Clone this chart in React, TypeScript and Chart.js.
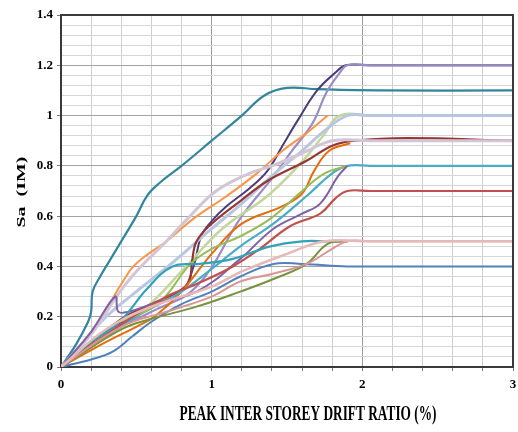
import React, { useEffect, useRef } from 'react';
import { Chart, registerables } from 'chart.js';

Chart.register(...registerables);

type P = [number, number];

const xTitle = 'PEAK INTER STOREY DRIFT RATIO (%)';
const yTitle = 'Sa  (IM)';
const xMin = 0, xMax = 3, xStep = 0.2;
const yMin = 0, yMax = 1.4, yStep = 0.04;

// series (drift %, Sa)
const tealHigh: P[] = [[0,0],[0.1,0.09],[0.18,0.18],[0.2,0.22],[0.21,0.3],[0.26,0.36],[0.32,0.42],[0.4,0.5],[0.5,0.6],[0.57,0.68],[0.65,0.73],[0.8,0.8],[1.0,0.9],[1.2,1.0],[1.35,1.08],[1.5,1.11],[1.7,1.105],[2.1,1.1],[3,1.1]];
const navyPurple: P[] = [[0,0],[0.3,0.14],[0.6,0.24],[0.8,0.3],[0.88,0.4],[0.93,0.52],[1.0,0.58],[1.1,0.64],[1.25,0.71],[1.37,0.78],[1.47,0.88],[1.57,0.98],[1.7,1.1],[1.82,1.17],[1.89,1.2],[2.05,1.2],[3,1.2]];
const lavender: P[] = [[0,0],[0.3,0.13],[0.6,0.22],[0.9,0.32],[1.2,0.6],[1.4,0.75],[1.52,0.85],[1.67,0.97],[1.76,1.09],[1.85,1.17],[1.9,1.2],[2.05,1.2],[3,1.2]];
const orange: P[] = [[0,0],[0.2,0.14],[0.33,0.26],[0.4,0.33],[0.48,0.4],[0.58,0.45],[0.7,0.5],[0.88,0.59],[1.1,0.68],[1.3,0.77],[1.47,0.86],[1.63,0.93],[1.77,1.0]];
const lightGreen: P[] = [[0,0],[0.3,0.13],[0.57,0.24],[0.8,0.38],[1.07,0.55],[1.37,0.68],[1.59,0.81],[1.74,0.92],[1.85,1.0],[2.05,1.0],[3,1.0]];
const blueGray: P[] = [[0,0],[0.15,0.1],[0.3,0.2],[0.5,0.3],[0.75,0.42],[1.0,0.55],[1.2,0.65],[1.4,0.76],[1.6,0.86],[1.75,0.94],[1.9,1.0],[2.05,1.0],[3,1.0]];
const maroon: P[] = [[0,0],[0.4,0.19],[0.6,0.25],[0.78,0.3],[0.85,0.34],[0.87,0.42],[0.9,0.5],[1.0,0.57],[1.19,0.66],[1.37,0.74],[1.63,0.82],[1.8,0.88],[1.95,0.9],[2.3,0.91],[3,0.9]];
const pinkLavender: P[] = [[0,0],[0.2,0.13],[0.38,0.29],[0.5,0.38],[0.7,0.5],[0.84,0.59],[1.03,0.7],[1.25,0.77],[1.4,0.8],[1.6,0.85],[1.8,0.9],[2.05,0.9],[3,0.9]];
const darkOrange: P[] = [[0,0],[0.3,0.1],[0.5,0.16],[0.62,0.2],[0.8,0.3],[1.0,0.45],[1.2,0.57],[1.47,0.64],[1.6,0.69],[1.68,0.78],[1.78,0.86],[1.92,0.89]];
const cyan: P[] = [[0,0],[0.3,0.12],[0.5,0.2],[0.8,0.3],[1.0,0.39],[1.19,0.48],[1.41,0.57],[1.63,0.68],[1.8,0.77],[1.9,0.8],[2.05,0.8],[3,0.8]];
const green: P[] = [[0,0],[0.33,0.16],[0.64,0.25],[0.86,0.41],[1.0,0.47],[1.19,0.52],[1.39,0.59],[1.6,0.7],[1.75,0.77],[1.9,0.8]];
const purple: P[] = [[0,0],[0.2,0.14],[0.36,0.28],[0.38,0.22],[0.45,0.22],[0.6,0.25],[0.9,0.3],[1.19,0.43],[1.41,0.55],[1.6,0.61],[1.72,0.65],[1.84,0.76],[1.9,0.8]];
const red: P[] = [[0,0],[0.4,0.17],[0.7,0.28],[0.9,0.33],[1.14,0.4],[1.32,0.47],[1.52,0.56],[1.72,0.61],[1.82,0.67],[1.9,0.7],[2.05,0.7],[3,0.7]];
const tealLow: P[] = [[0,0],[0.2,0.1],[0.39,0.18],[0.57,0.31],[0.74,0.4],[0.92,0.41],[1.14,0.43],[1.39,0.48],[1.6,0.5],[1.77,0.5],[1.9,0.5]];
const darkGreen: P[] = [[0,0],[0.4,0.15],[0.59,0.19],[0.9,0.24],[1.19,0.3],[1.41,0.35],[1.63,0.41],[1.77,0.49],[1.9,0.5]];
const pink: P[] = [[0,0],[0.4,0.16],[0.7,0.22],[1.0,0.28],[1.19,0.34],[1.4,0.37],[1.63,0.41],[1.8,0.47],[1.9,0.5],[2.05,0.5],[3,0.5]];
const lightPink: P[] = [[0,0],[0.3,0.15],[0.6,0.24],[1.0,0.32],[1.2,0.38],[1.5,0.45],[1.75,0.5],[2.05,0.5],[3,0.5]];
const blue: P[] = [[0,0],[0.2,0.03],[0.34,0.06],[0.47,0.12],[0.6,0.18],[0.8,0.25],[1.0,0.3],[1.19,0.36],[1.41,0.41],[1.6,0.41],[1.9,0.4],[2.1,0.4],[3,0.4]];

const seriesList: { data: P[]; color: string; width: number }[] = [
  { data: lightPink, color: '#e6b9b8', width: 2.5 },
  { data: pink, color: '#d99694', width: 2 },
  { data: darkGreen, color: '#77933c', width: 2 },
  { data: tealLow, color: '#31a2ba', width: 2.2 },
  { data: blue, color: '#4f81bd', width: 2 },
  { data: red, color: '#c0504d', width: 2.2 },
  { data: purple, color: '#7f62a6', width: 2 },
  { data: green, color: '#9bbb59', width: 2 },
  { data: cyan, color: '#4bacc6', width: 2.2 },
  { data: darkOrange, color: '#e46c0a', width: 2 },
  { data: pinkLavender, color: '#d3c5d6', width: 3 },
  { data: maroon, color: '#953735', width: 2.2 },
  { data: blueGray, color: '#b9c6e0', width: 3 },
  { data: lightGreen, color: '#c3d69b', width: 2.5 },
  { data: orange, color: '#f79646', width: 2 },
  { data: lavender, color: '#9a8dc6', width: 2.2 },
  { data: navyPurple, color: '#4b3d7c', width: 2 },
  { data: tealHigh, color: '#31859c', width: 2.2 },
];

const isMult = (v: number, step: number) => Math.abs(v / step - Math.round(v / step)) < 1e-6;
const FONT = '"Liberation Serif", "Times New Roman", serif';

const framePlugin = {
  id: 'frameAndTitles',
  afterDraw(chart: any) {
    const { ctx, chartArea: a } = chart;
    ctx.save();
    ctx.strokeStyle = '#3a3a3a';
    ctx.lineWidth = 2;
    ctx.beginPath();
    ctx.moveTo(a.left, a.top);
    ctx.lineTo(a.right, a.top);
    ctx.lineTo(a.right, a.bottom);
    ctx.stroke();

    ctx.fillStyle = '#000';
    ctx.textAlign = 'center';
    ctx.textBaseline = 'middle';
    // x title
    ctx.font = `bold 20px ${FONT}`;
    const wx = ctx.measureText(xTitle).width;
    ctx.save();
    ctx.translate(308, 415);
    ctx.scale(257 / wx, 1);
    ctx.fillText(xTitle, 0, 0);
    ctx.restore();
    // y title
    ctx.font = `bold 18px ${FONT}`;
    const wy = ctx.measureText(yTitle).width;
    ctx.save();
    ctx.translate(22, 192);
    ctx.rotate(-Math.PI / 2);
    ctx.scale(71 / wy, 0.75);
    ctx.fillText(yTitle, 0, 0);
    ctx.restore();
    ctx.restore();
  },
};

export default function App() {
  const ref = useRef<HTMLCanvasElement>(null);
  useEffect(() => {
    if (!ref.current) return;
    const chart = new Chart(ref.current, {
      type: 'scatter',
      data: {
        datasets: seriesList.map((s) => ({
          data: s.data.map(([x, y]) => ({ x, y })),
          showLine: true,
          borderColor: s.color,
          backgroundColor: s.color,
          borderWidth: s.width,
          pointRadius: 0,
          tension: 0.4,
          fill: false,
        })),
      },
      options: {
        responsive: false,
        animation: false,
        devicePixelRatio: 1,
        layout: { padding: { top: 15, right: 5, left: 0, bottom: 0 } },
        plugins: { legend: { display: false }, tooltip: { enabled: false } },
        scales: {
          x: {
            type: 'linear',
            min: xMin,
            max: xMax,
            afterFit: (s: any) => { s.height = 65; s.paddingRight = 0; s.paddingLeft = 0; },
            ticks: {
              stepSize: xStep,
              autoSkip: false,
              maxRotation: 0,
              padding: 6,
              color: '#000',
              font: { family: FONT, weight: 'bold', size: 13 },
              callback: (v: any) => (isMult(Number(v), 1) ? String(Math.round(Number(v))) : ''),
            },
            grid: {
              color: (c: any) => (isMult(c.tick.value, 1) ? '#9a9a9a' : '#cfcfcf'),
              tickColor: '#7a7a7a',
              tickLength: 4,
              lineWidth: 1,
            },
            border: { color: '#3a3a3a', width: 2 },
          },
          y: {
            type: 'linear',
            min: yMin,
            max: yMax,
            afterFit: (s: any) => { s.width = 61; },
            ticks: {
              stepSize: yStep,
              autoSkip: false,
              padding: 4,
              color: '#000',
              font: { family: FONT, weight: 'bold', size: 13 },
              callback: (v: any) => (isMult(Number(v), 0.2) ? String(Math.round(Number(v) * 10) / 10) : ''),
            },
            grid: {
              color: (c: any) => (isMult(c.tick.value, 0.2) ? '#a2a2a2' : '#d6d6d6'),
              tickColor: (c: any) => (isMult(c.tick.value, 0.2) ? '#7a7a7a' : 'rgba(0,0,0,0)'),
              tickLength: 4,
              lineWidth: 1,
            },
            border: { color: '#3a3a3a', width: 2 },
          },
        },
      },
      plugins: [framePlugin],
    });
    return () => chart.destroy();
  }, []);
  return (
    <div style={{ position: 'absolute', left: 0, top: 0, width: 518, height: 432, background: '#fff' }}>
      <canvas ref={ref} width={518} height={432} />
    </div>
  );
}
